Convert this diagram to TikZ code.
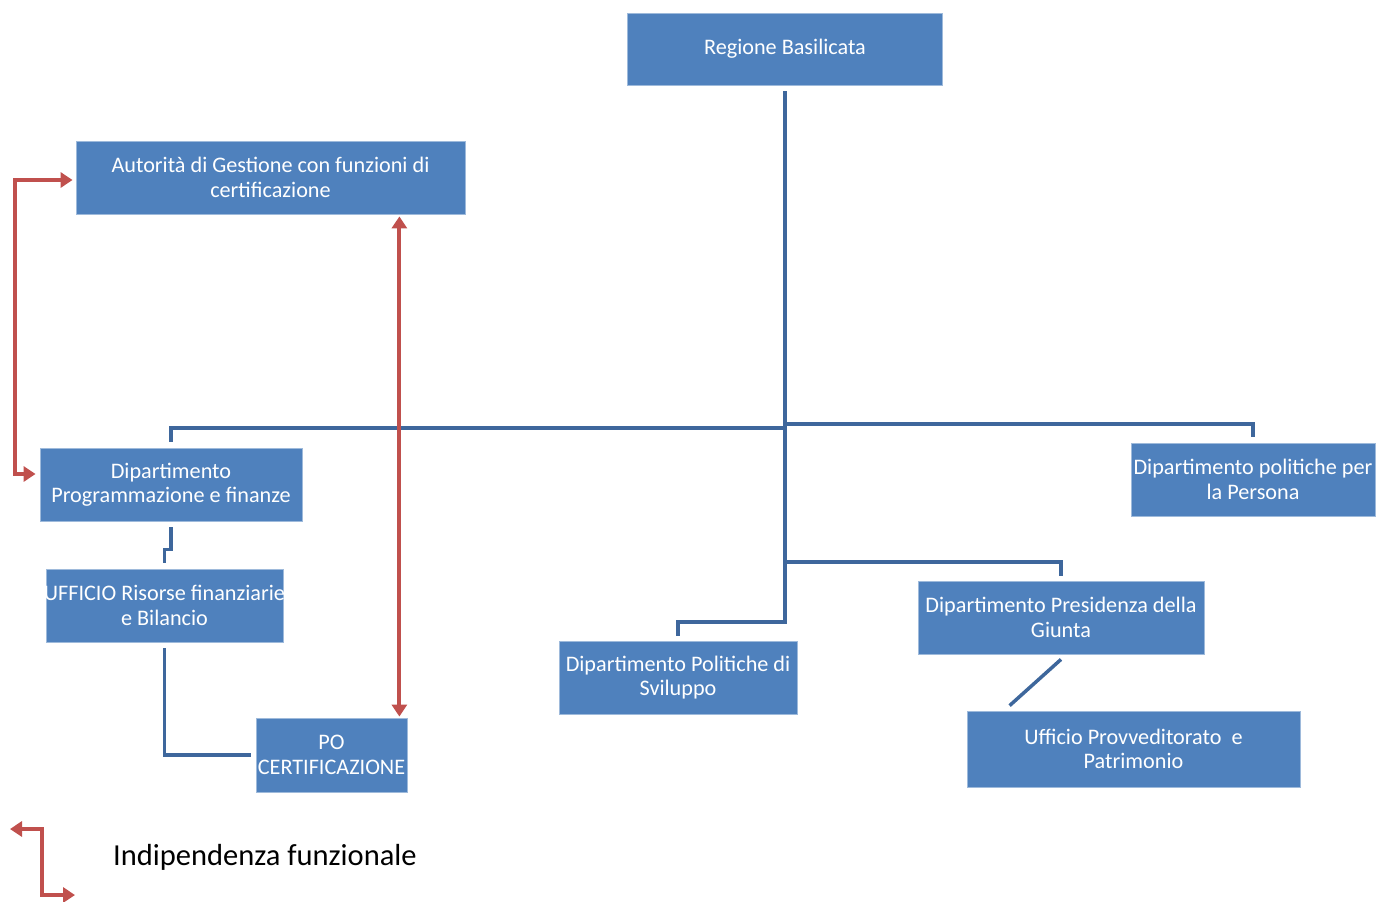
\documentclass[tikz,border=0pt]{standalone}
\usepackage{fontspec}
\setmainfont{Carlito}
\usetikzlibrary{arrows.meta,calc}
\definecolor{boxblue}{RGB}{79,129,189}
\definecolor{linkblue}{RGB}{62,103,156}
\definecolor{arrred}{RGB}{192,80,77}
\begin{document}
\begin{tikzpicture}[x=1pt,y=-1pt,
  box/.style={fill=boxblue,draw=boxblue!55!white,line width=0.8pt,text=white,
    inner sep=0pt,align=center,font=\fontsize{22.2}{24.5}\selectfont},
  conn/.style={draw=linkblue,line width=3.5pt},
  redarr/.style={draw=arrred,line width=4pt,{Triangle[width=15pt,length=12pt]}-{Triangle[width=15pt,length=12pt]}}]
\useasboundingbox (0,0) rectangle (1377,902);
% boxes
\node[box,minimum width=315pt,minimum height=72pt] (reg) at (785,49) {Regione Basilicata};
\node[box,minimum width=389pt,minimum height=73pt] (ag) at (270.5,177.5) {Autorità di Gestione con funzioni di\\certificazione};
\node[box,minimum width=262pt,minimum height=73pt] (dpf) at (171,484.5) {Dipartimento\\Programmazione e finanze};
\node[box,minimum width=237pt,minimum height=73pt] (uff) at (164.5,605.5) {\makebox[0pt]{UFFICIO Risorse finanziarie}\\e Bilancio};
\node[box,minimum width=151pt,minimum height=74pt] (po) at (331.5,755) {PO\\\makebox[0pt]{CERTIFICAZIONE}};
\node[box,minimum width=238pt,minimum height=73pt] (dsv) at (678,677.5) {Dipartimento Politiche di\\Sviluppo};
\node[box,minimum width=286pt,minimum height=73pt] (dpg) at (1061,617.5) {Dipartimento Presidenza della\\Giunta};
\node[box,minimum width=333pt,minimum height=76pt] (prov) at (1133.5,749) {Ufficio Provveditorato\ \ e\\Patrimonio};
\node[box,minimum width=244pt,minimum height=73pt] (dpp) at (1253,479.5) {\makebox[0pt]{Dipartimento politiche per}\\la Persona};
% junctions
\coordinate (jl) at (785,428);
\coordinate (jr) at (785,424);
\coordinate (jg) at (785,562);
\coordinate (js) at (785,622);
% blue connectors
\draw[conn] ([yshift=-6pt]reg.south) -- (js) -| ([yshift=5pt]dsv.north);
\draw[conn] (jl) -| ([yshift=6pt]dpf.north);
\draw[conn] (jr) -| ([yshift=6pt]dpp.north);
\draw[conn] (jg) -| ([yshift=5pt]dpg.north);
\draw[conn] ([yshift=-6pt]dpf.south) -- ++(0,22) -| ([yshift=6pt]uff.north);
\draw[conn] ([yshift=-6pt]uff.south) |- ([xshift=-5pt]po.west);
\draw[conn] ([yshift=-5pt]dpg.south) -- ([shift={(43,-5)}]prov.north west);
% red arrows
\draw[redarr] ([shift={(-3,2.5)}]ag.west) -- (15,180) -- (15,474) -- ([shift={(-4,-10.5)}]dpf.west);
\draw[redarr] ([shift={(-66,2)}]ag.south east) -- ([shift={(-8,-1)}]po.north east);
% legend
\coordinate (la) at (10,829);
\coordinate (lb) at (75,895);
\draw[redarr] (la) -- (42,829) -- (42,895) -- (lb);
\node[anchor=west,inner sep=0pt,font=\fontsize{30.5}{36}\selectfont] (leg) at (113,857) {Indipendenza funzionale};
\end{tikzpicture}
\end{document}
